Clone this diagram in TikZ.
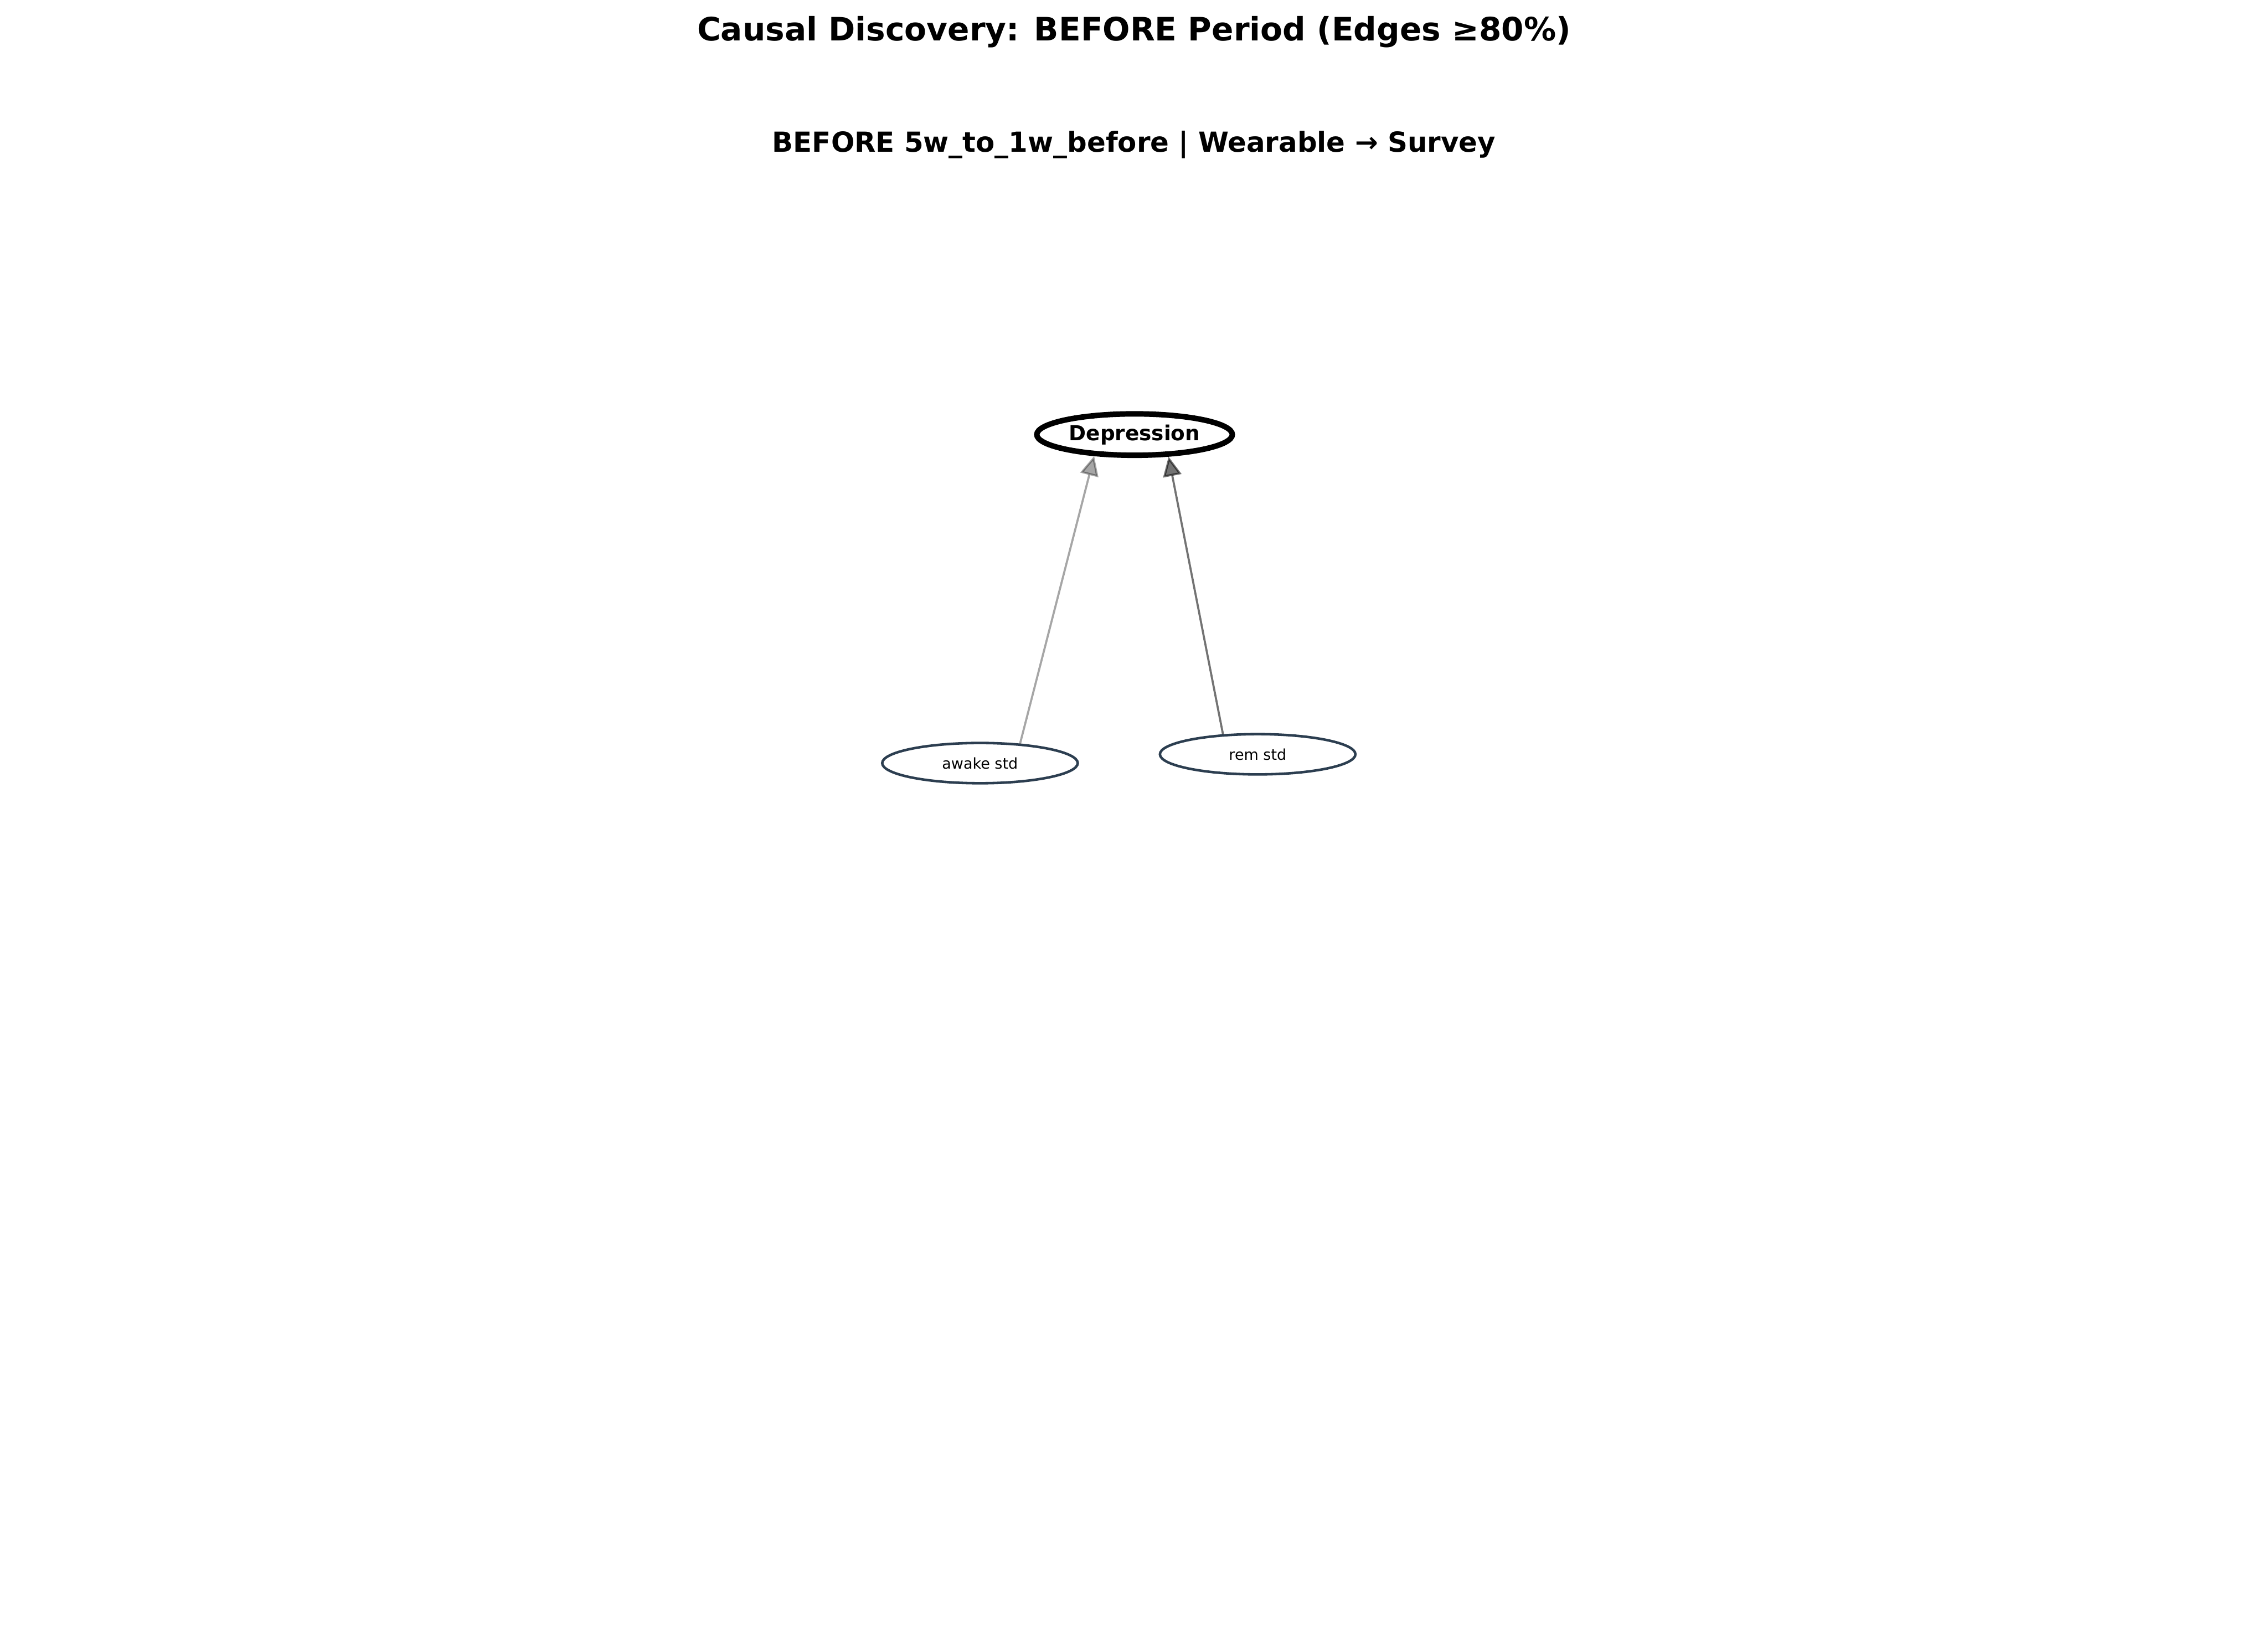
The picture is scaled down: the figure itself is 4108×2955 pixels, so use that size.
\documentclass[tikz,border=0pt]{standalone}
\usepackage{fontspec}
\setmainfont{DejaVu Sans}
\usepackage{tikz}
\usetikzlibrary{arrows.meta,shapes.geometric}
\definecolor{nodeedge}{HTML}{2C3E50}

\begin{document}
\begin{tikzpicture}[
  x=0.24pt, y=-0.24pt,
  target/.style={ellipse, draw=black, line width=2.4pt, fill=white, inner sep=0pt, minimum width=85pt, minimum height=18pt, font=\fontsize{9}{10}\selectfont\bfseries},
  feature/.style={ellipse, draw=nodeedge, line width=1.1pt, fill=white, inner sep=0pt, minimum width=85pt, minimum height=17.5pt, font=\fontsize{6.5}{7}\selectfont},
  edgeweak/.style={-{Triangle[length=8.5pt,width=8pt,fill=black]}, line width=0.9pt, draw=black, opacity=0.35},
  edgestrong/.style={-{Triangle[length=8.5pt,width=8pt,fill=black]}, line width=0.9pt, draw=black, opacity=0.55}
]
  \useasboundingbox (0,0) rectangle (4108,2955);
  \node[font=\fontsize{14}{16}\selectfont\bfseries] (title) at (2054,58) {Causal Discovery: BEFORE Period (Edges ≥80\%)};
  \node[font=\fontsize{12}{14}\selectfont\bfseries] (subtitle) at (2054,262) {BEFORE 5w\_to\_1w\_before | Wearable → Survey};

  \node[target] (depression) at (2055,787) {Depression};
  \node[feature] (awake) at (1775,1382) {awake std};
  \node[feature] (rem) at (2278,1366) {rem std};

  \draw[edgeweak] (awake.26) -- (depression.208);
  \draw[edgestrong] (rem.150) -- (depression.-33);
\end{tikzpicture}
\end{document}
